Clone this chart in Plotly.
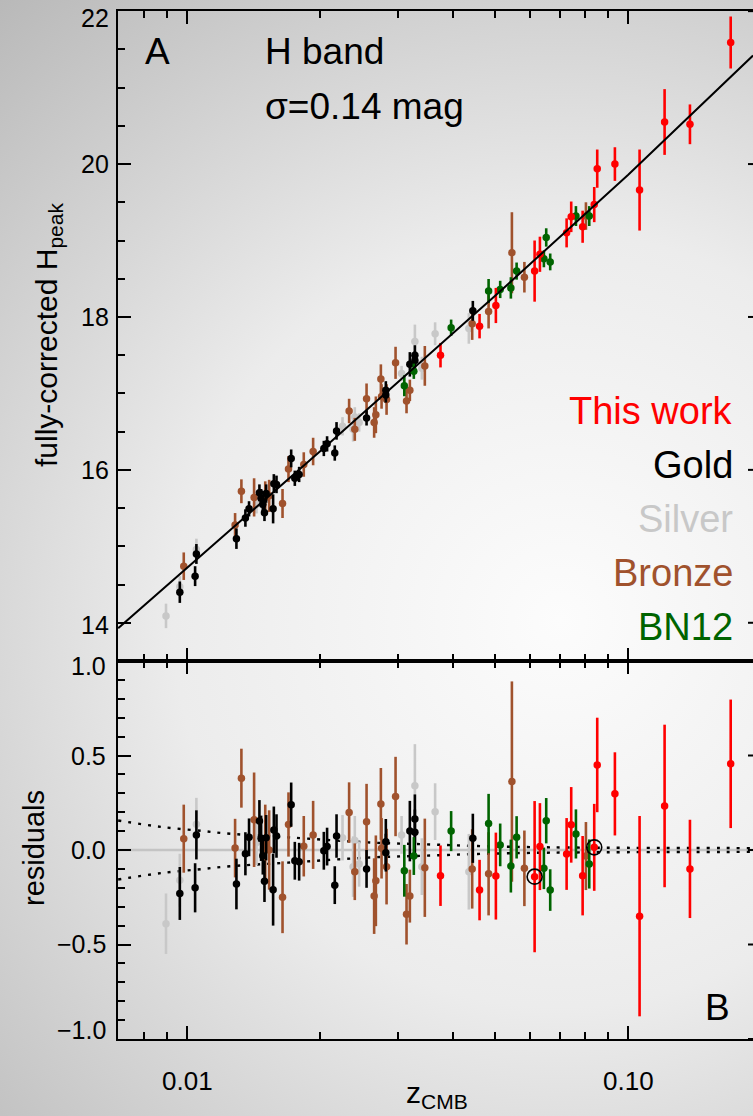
import base64
import plotly.graph_objects as go

# ---------------- data ----------------
# Silver sample
silver_z = [0.00896, 0.00963, 0.0105, 0.01437, 0.02251, 0.02379, 0.024, 0.02455,
            0.03064, 0.03284, 0.03406, 0.0365, 0.04353]
silver_H = [14.09, 14.47, 14.96, 15.55, 16.57, 16.53, 16.69, 16.62,
            17.26, 17.68, 17.33, 17.78, 17.85]
silver_res = [-0.39, -0.16, 0.136, 0.04, 0.065, -0.088, 0.05, -0.074,
              0.08, 0.34, -0.088, 0.203, -0.115]
silver_err = [0.16, 0.14, 0.14, 0.12, 0.12, 0.16, 0.13, 0.12,
              0.10, 0.22, 0.15, 0.15, 0.20]

# Gold sample
gold_z = [0.00963, 0.0105, 0.01043, 0.01294, 0.01356, 0.01382, 0.01459, 0.01472,
          0.01485, 0.01498, 0.01511, 0.01567, 0.01573, 0.01595, 0.01722, 0.01755,
          0.01795, 0.02042, 0.02077, 0.02162, 0.02182, 0.02552, 0.02822, 0.02822,
          0.03199, 0.03284, 0.03284, 0.04444]
gold_H = [14.40, 14.90, 14.61, 15.10, 15.37, 15.49, 15.70, 15.63,
          15.55, 15.44, 15.69, 15.49, 15.82, 15.81, 16.15, 15.89,
          15.94, 16.28, 16.34, 16.22, 16.51, 16.68, 17.04, 16.98,
          17.38, 17.50, 17.43, 18.08]
gold_res = [-0.23, 0.08, -0.20, -0.18, -0.02, 0.067, 0.154, 0.062,
            -0.03, -0.165, 0.065, -0.21, 0.106, 0.074, 0.24, -0.057,
            -0.062, -0.004, 0.018, -0.186, 0.074, -0.10, 0.044, -0.014,
            0.10, 0.164, 0.094, 0.062]
gold_err = [0.14, 0.13, 0.13, 0.134, 0.114, 0.10, 0.11, 0.12,
            0.10, 0.11, 0.12, 0.19, 0.124, 0.115, 0.117, 0.10,
            0.10, 0.10, 0.10, 0.10, 0.115, 0.10, 0.12, 0.10,
            0.16, 0.13, 0.12, 0.13]

# Bronze sample
bronze_z = [0.00983, 0.01285, 0.01328, 0.01419, 0.01504, 0.01535, 0.01646, 0.01698,
            0.01839, 0.01931, 0.0233, 0.024, 0.02552, 0.02655, 0.02679, 0.0275,
            0.0276, 0.02833, 0.02969, 0.03144, 0.03199, 0.03459, 0.04429, 0.04825,
            0.05449, 0.05816, 0.08019]
bronze_H = [14.74, 15.28, 15.72, 15.64, 15.64, 15.66, 15.56, 16.01,
            16.07, 16.24, 16.77, 16.53, 16.93, 16.62, 16.72, 17.19,
            16.96, 16.92, 17.40, 16.90, 17.04, 17.36, 17.91, 18.07,
            18.84, 18.52, 19.32]
bronze_res = [0.06, 0.01, 0.38, 0.16, 0.03, 0.0, -0.25, 0.135,
              0.02, 0.08, 0.198, -0.115, 0.15, -0.244, -0.163, 0.244,
              0.009, -0.088, 0.283, -0.34, -0.244, -0.094, -0.10, -0.126,
              0.362, -0.097, -0.032]
bronze_err = [0.18, 0.155, 0.156, 0.25, 0.21, 0.21, 0.19, 0.17,
              0.16, 0.18, 0.16, 0.15, 0.20, 0.20, 0.24, 0.19,
              0.16, 0.20, 0.21, 0.16, 0.14, 0.26, 0.21, 0.22,
              0.53, 0.20, 0.18]

# BN12 sample
bn12_z = [0.03108, 0.03266, 0.03968, 0.04825, 0.05126, 0.0542, 0.05585, 0.06439,
          0.06518, 0.06655, 0.07611, 0.08159]
bn12_H = [17.10, 17.29, 17.86, 18.34, 18.36, 18.38, 18.60, 18.76,
          19.04, 18.72, 19.32, 19.32]
bn12_res = [-0.11, -0.032, 0.10, 0.14, 0.027, -0.085, 0.067, -0.097,
            0.155, -0.212, 0.085, -0.074]
bn12_err = [0.137, 0.10, 0.106, 0.157, 0.113, 0.14, 0.112, 0.11,
            0.12, 0.11, 0.13, 0.13]

# This work
new_z = [0.03754, 0.04603, 0.05012, 0.06135, 0.06307, 0.0725, 0.07426, 0.07882,
         0.08374, 0.08506, 0.09328, 0.1061, 0.1209, 0.138, 0.1707]
new_H = [17.50, 17.88, 18.15, 18.60, 18.82, 19.10, 19.31, 19.18,
         19.47, 19.94, 20.00, 19.66, 20.55, 20.52, 21.59]
new_res = [-0.136, -0.212, -0.138, -0.141, 0.018, -0.021, 0.133, -0.136,
           0.014, 0.45, 0.297, -0.35, 0.233, -0.10, 0.456]
new_err = [0.16, 0.16, 0.23, 0.40, 0.23, 0.19, 0.20, 0.21,
           0.23, 0.25, 0.22, 0.53, 0.43, 0.26, 0.34]

# circled SNe (residual panel)
circled_z = [0.06135, 0.08374]
circled_res = [-0.141, 0.014]

# Hubble-law fit line (top panel)
fit_z = [0.00698, 0.01, 0.02, 0.05, 0.1, 0.1918]
fit_H = [13.93, 14.72, 16.24, 18.28, 19.86, 21.42]

# peculiar-velocity envelope (dotted, residual panel)
pv_z = [0.00698, 0.00876, 0.01091, 0.0122, 0.01692, 0.02637, 0.03477, 0.04562, 0.06678, 0.1918]
pv_upper = [0.156, 0.122, 0.10, 0.088, 0.067, 0.039, 0.030, 0.021, 0.014, 0.010]
pv_lower = [-0.156, -0.122, -0.10, -0.088, -0.067, -0.039, -0.030, -0.021, -0.014, -0.010]

# axis ticks
x_major = [0.01, 0.1]
x_major_text = ["0.01", "0.10"]
x_minor = [0.008, 0.009, 0.02, 0.03, 0.04, 0.05, 0.06, 0.07, 0.08, 0.09]
y_top_ticks = [14, 16, 18, 20, 22]
y_top_text = ["14", "16", "18", "20", "22"]
y_res_ticks = [-1.0, -0.5, 0.0, 0.5, 1.0]
y_res_text = ["−1.0", "−0.5", "0.0", "0.5", "1.0"]

groups = [
    ("Silver", silver_z, silver_H, silver_res, silver_err, "#c8c8c8"),
    ("Bronze", bronze_z, bronze_H, bronze_res, bronze_err, "#a0522d"),
    ("Gold", gold_z, gold_H, gold_res, gold_err, "#000000"),
    ("BN12", bn12_z, bn12_H, bn12_res, bn12_err, "#006400"),
    ("This work", new_z, new_H, new_res, new_err, "#ff0000"),
]

# ---------------- layout geometry ----------------
W, H = 753, 1116
ML, MR, MT, MB = 118, 0, 11, 77
PW, PH = W - ML - MR, H - MT - MB
SPLIT = 378 / PH
FONT = "Liberation Sans, Arial, Helvetica, sans-serif"


def px(xp):
    return (xp - ML) / PW


def py(yp):
    return (H - MB - yp) / PH


fig = go.Figure()

for name, z, h, r, e, col in groups:
    fig.add_trace(go.Scatter(
        x=z, y=h, mode="markers", name=name, showlegend=False,
        marker=dict(size=7.5, color=col),
        error_y=dict(type="data", array=e, thickness=2.6, width=0, color=col),
        xaxis="x", yaxis="y"))

fig.add_trace(go.Scatter(x=fit_z, y=fit_H, mode="lines", showlegend=False,
                         line=dict(color="black", width=2), xaxis="x", yaxis="y"))

for pv in (pv_upper, pv_lower):
    fig.add_trace(go.Scatter(x=pv_z, y=pv, mode="lines", showlegend=False,
                             line=dict(color="black", width=2.4, dash="3px,7px", shape="spline"),
                             xaxis="x2", yaxis="y2"))

for name, z, h, r, e, col in groups:
    fig.add_trace(go.Scatter(
        x=z, y=r, mode="markers", name=name, showlegend=False,
        marker=dict(size=7.5, color=col),
        error_y=dict(type="data", array=e, thickness=2.6, width=0, color=col),
        xaxis="x2", yaxis="y2"))

fig.add_trace(go.Scatter(x=circled_z, y=circled_res, mode="markers", showlegend=False,
                         marker=dict(size=15, color="rgba(0,0,0,0)",
                                     line=dict(color="black", width=1.6)),
                         xaxis="x2", yaxis="y2"))

xcommon = dict(type="log", range=[-2.1565, -0.7172], showline=True, linecolor="black",
               linewidth=2, mirror="allticks", ticks="inside", ticklen=13, tickwidth=2,
               tickcolor="black", tickmode="array", tickvals=x_major,
               showticklabels=False, showgrid=False, zeroline=False,
               minor=dict(tickmode="array", tickvals=x_minor, ticks="inside",
                          ticklen=7, tickwidth=2, tickcolor="black", showgrid=False))
ycommon = dict(showline=True, linecolor="black", linewidth=2, mirror=False,
               ticks="inside", ticklen=13, tickwidth=2, tickcolor="black",
               showgrid=False, zeroline=False, showticklabels=False)

fig.update_layout(
    width=W, height=H,
    margin=dict(l=ML, r=MR, t=MT, b=MB, autoexpand=False),
    paper_bgcolor="rgba(0,0,0,0)", plot_bgcolor="rgba(0,0,0,0)",
    xaxis=dict(**xcommon, domain=[0, 1], anchor="y", matches="x2"),
    xaxis2=dict(**xcommon, domain=[0, 1], anchor="y2"),
    yaxis=dict(**ycommon, domain=[SPLIT, 1], anchor="x", range=[13.5, 22.002],
               tickmode="array", tickvals=y_top_ticks,
               minor=dict(dtick=0.5, ticks="inside", ticklen=7, tickwidth=2,
                          tickcolor="black", showgrid=False)),
    yaxis2=dict(**ycommon, domain=[0, SPLIT], anchor="x2", range=[-1.0, 1.0],
                tickmode="array", tickvals=y_res_ticks,
                minor=dict(dtick=0.1, ticks="inside", ticklen=7, tickwidth=2,
                           tickcolor="black", showgrid=False)),
    showlegend=False,
)

# zero line in residual panel
fig.add_shape(type="line", xref="x2 domain", x0=0, x1=1, yref="y2", y0=0, y1=0,
              line=dict(color="#c4c4c4", width=2.5), layer="below")

# the right-hand frame lies just past the picture edge: only the tips of its
# major ticks show
STUB = 5 / PW
for v in y_top_ticks:
    fig.add_shape(type="line", xref="x domain", x0=1 - STUB, x1=1, yref="y", y0=v, y1=v,
                  line=dict(color="black", width=2))
for v in y_res_ticks:
    fig.add_shape(type="line", xref="x2 domain", x0=1 - STUB, x1=1, yref="y2", y0=v, y1=v,
                  line=dict(color="black", width=2))

# background radial gradient
svg = ("<svg xmlns='http://www.w3.org/2000/svg' width='753' height='1116'>"
       "<defs><radialGradient id='g' gradientUnits='userSpaceOnUse' cx='560' cy='620' r='860'>"
       "<stop offset='0' stop-color='#fcfcfc'/><stop offset='0.45' stop-color='#ececec'/>"
       "<stop offset='1' stop-color='#b6b6b6'/></radialGradient></defs>"
       "<rect width='753' height='1116' fill='url(#g)'/></svg>")
src = "data:image/svg+xml;base64," + base64.b64encode(svg.encode()).decode()
fig.add_layout_image(dict(source=src, xref="paper", yref="paper",
                          x=-ML / PW, y=1 + MT / PH, sizex=W / PW, sizey=H / PH,
                          xanchor="left", yanchor="top", sizing="stretch", layer="below"))

ann = []


def text(t, xp, yp, size, color="black", xanchor="center", angle=0):
    ann.append(dict(text=t, x=px(xp), y=py(yp), xref="paper", yref="paper",
                    showarrow=False, xanchor=xanchor, yanchor="middle", textangle=angle,
                    font=dict(family=FONT, size=size, color=color)))


# x tick labels (bottom axis)
for xv, lab in zip([187.3, 628.3], x_major_text):
    text(lab, xv, 1081, 26)
# top-panel tick labels (end label sits slightly inside the frame)
for yp, lab in zip([625, 470, 317, 164, 18], y_top_text):
    text(lab, 111, yp, 25, xanchor="right")
# residual tick labels (the end labels sit slightly inside the frame)
for yp, lab in zip([1030, 944, 850, 756, 666], y_res_text):
    text(lab, 108, yp, 25, xanchor="right")

text("A", 157, 52, 37)
text("H band", 263, 52, 37, xanchor="left")
text("σ=0.14 mag", 263, 106, 37, xanchor="left")
text("This work", 735, 411, 38, color="#ff0000", xanchor="right")
text("Gold", 735, 465, 38, color="#000000", xanchor="right")
text("Silver", 735, 519, 38, color="#c8c8c8", xanchor="right")
text("Bronze", 735, 573, 38, color="#a0522d", xanchor="right")
text("BN12", 735, 627, 38, color="#006400", xanchor="right")
text("B", 717, 1007, 37)
text("fully-corrected H<sub>peak</sub>", 48, 335, 30, angle=-90)
text("residuals", 34, 848, 29, angle=-90)
text("z<sub>CMB</sub>", 437, 1094, 30)
fig.update_layout(annotations=ann)

fig.write_html("out.html")
